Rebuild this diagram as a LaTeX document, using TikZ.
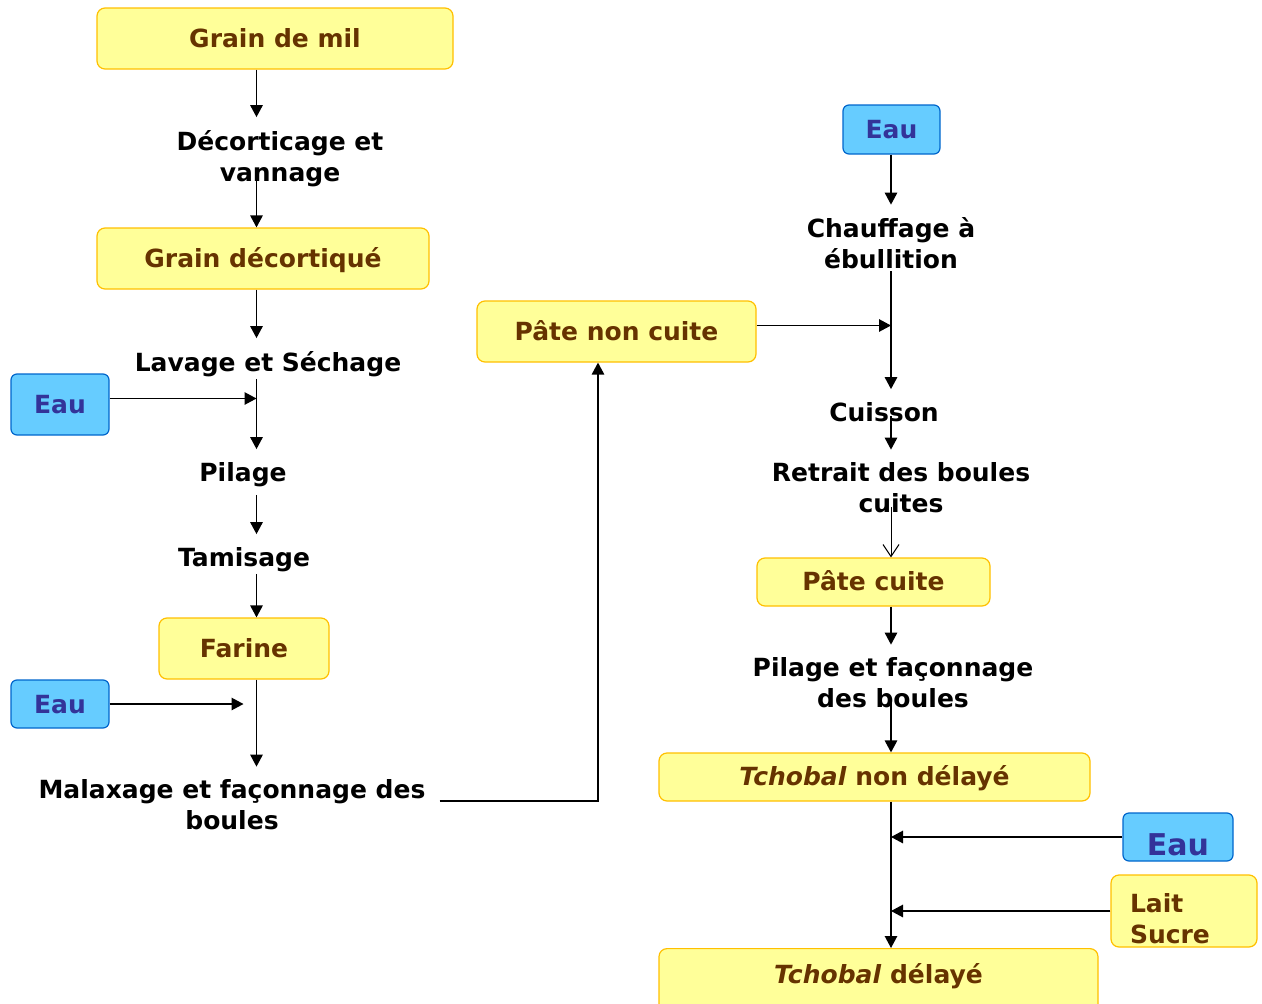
\documentclass[tikz,border=0pt]{standalone}
\usepackage{fontspec}
\setmainfont{DejaVu Sans}
\usetikzlibrary{arrows.meta}
\definecolor{yfill}{HTML}{FFFF99}
\definecolor{yline}{HTML}{FFC000}
\definecolor{brn}{HTML}{663300}
\definecolor{bfill}{HTML}{66CCFF}
\definecolor{bline}{HTML}{0066CC}
\definecolor{btext}{HTML}{333399}
\begin{document}
\begin{tikzpicture}[x=1pt,y=-1pt,
  ybase/.style={draw=yline, fill=yfill, line width=1.2pt, rounded corners=8pt, text=brn,
    font=\fontsize{25}{31}\selectfont\bfseries, inner sep=0pt},
  ybox/.style={ybase, text height=18pt, text depth=1pt},
  bbox/.style={draw=bline, fill=bfill, line width=1.2pt, rounded corners=6pt, text=btext,
    font=\fontsize{25}{31}\selectfont\bfseries, inner sep=0pt, text height=18pt, text depth=0pt},
  lbl/.style={align=center, font=\fontsize{25}{31}\selectfont\bfseries, inner sep=2pt},
  arr/.style={-{Triangle[length=12pt,width=12.5pt]}, line width=1.3pt},
  tolbl/.style={shorten >=11pt},
  openarr/.style={-{Straight Barb[length=12pt,width=16pt]}, line width=1pt}]
\useasboundingbox (0,0) rectangle (1262,1004);

\coordinate (colL) at (256.5,0);
\coordinate (colM) at (598,0);
\coordinate (colR) at (891,0);

% left column
\node[ybox, minimum width=356pt, minimum height=61pt] (gm) at (275,38.5) {Grain de mil};
\node[lbl] (dec) at (280,158.5) {Décorticage et\\vannage};
\node[ybox, minimum width=332pt, minimum height=61pt] (gd) at (263,258.5) {Grain décortiqué};
\node[lbl] (lav) at (268,364) {Lavage et Séchage};
\node[bbox, minimum width=98pt, minimum height=61pt] (eau1) at (60,404.5) {Eau};
\node[lbl] (pil) at (243,474.5) {Pilage};
\node[lbl] (tam) at (244,559.5) {Tamisage};
\node[ybox, minimum width=170pt, minimum height=61pt] (far) at (244,648.5) {Farine};
\node[bbox, minimum width=98pt, minimum height=48pt] (eau2) at (60,704) {Eau};
\node[lbl] (mal) at (232,805) {Malaxage et façonnage des\\boules};

% middle
\node[ybox, minimum width=279pt, minimum height=61pt] (pnc) at (616.5,331.5) {Pâte non cuite};

% right column
\node[bbox, minimum width=97pt, minimum height=49pt] (eau3) at (891.5,129.5) {Eau};
\node[lbl] (chauf) at (891,243.5) {Chauffage à\\ébullition};
\node[lbl] (cuis) at (884,412) {Cuisson};
\node[lbl] (ret) at (901,488) {Retrait des boules\\cuites};
\node[ybox, minimum width=233pt, minimum height=48pt] (pc) at (873.5,582) {Pâte cuite};
\node[lbl] (pfb) at (893,683) {Pilage et façonnage\\des boules};
\node[ybox, minimum width=431pt, minimum height=48pt] (tnd) at (874.5,777) {\textit{Tchobal} non délayé};
\node[bbox, minimum width=110pt, minimum height=48pt, font=\fontsize{30}{36}\selectfont\bfseries, text height=36pt, text depth=0pt] (eau4) at (1178,837) {Eau};
\node[ybase, minimum width=146pt, minimum height=72pt, align=left, text width=108pt, text height=20pt, text depth=18pt] (ls) at (1184,911) {Lait\\Sucre};
\node[ybase, anchor=north, minimum width=439pt, minimum height=64pt, text height=18pt, text depth=12pt] (tdl) at (878.5,948) {\textit{Tchobal} délayé};

% connectors left
\draw[arr, tolbl] (gm.south -| colL) -- (dec.north -| colL);
\draw[arr] ([yshift=10pt]dec.south -| colL) -- (gd.north -| colL);
\draw[arr, tolbl] (gd.south -| colL) -- (lav.north -| colL);
\draw[arr, tolbl] (lav.south -| colL) -- (pil.north -| colL);
\draw[arr] ([yshift=6pt]eau1.east) -- ([yshift=6pt]eau1.east -| colL);
\draw[arr, tolbl] ([yshift=-6pt]pil.south -| colL) -- (tam.north -| colL);
\draw[arr] (tam.south -| colL) -- (far.north -| colL);
\draw[arr, tolbl] (far.south -| colL) -- (mal.north -| colL);
\draw[arr, shorten >=13pt] (eau2.east) -- (eau2.east -| colL);
\draw[arr] ([xshift=12pt,yshift=4pt]mal.east) -| (pnc.south -| colM);

% connectors right
\draw[arr] ([yshift=6pt]pnc.east) -- ([yshift=6pt]pnc.east -| colR);
\draw[arr, tolbl] (eau3.south -| colR) -- (chauf.north -| colR);
\draw[arr, tolbl] (chauf.south -| colR) -- (cuis.north -| colR);
\draw[arr, tolbl] ([yshift=8pt]cuis.south -| colR) -- (ret.north -| colR);
\draw[openarr] ([yshift=8pt]ret.south -| colR) -- (pc.north -| colR);
\draw[arr, tolbl] (pc.south -| colR) -- (pfb.north -| colR);
\draw[arr] ([yshift=8pt]pfb.south -| colR) -- (tnd.north -| colR);
\draw[arr] (tnd.south -| colR) -- (tdl.north -| colR);
\draw[arr] (eau4.west) -- (eau4.west -| colR);
\draw[arr] (ls.west) -- (ls.west -| colR);
\end{tikzpicture}
\end{document}
